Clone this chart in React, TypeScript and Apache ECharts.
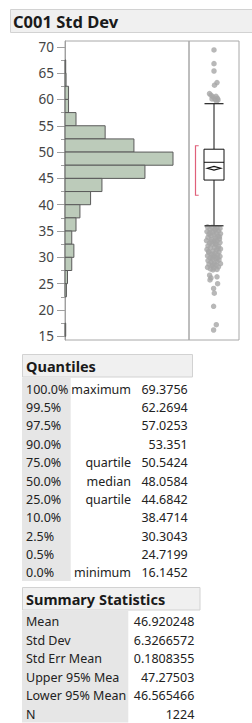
import React, { useEffect, useRef } from "react";
import * as echarts from "echarts";

// ---------- data ----------
const binStarts = [67.5, 65, 62.5, 60, 57.5, 55, 52.5, 50, 47.5, 45, 42.5, 40, 37.5, 35, 32.5, 30, 27.5, 25, 22.5, 20, 17.5, 15];
const binCounts = [0, 2, 3, 10, 10, 31, 113, 194, 304, 225, 104, 72, 42, 31, 19, 25, 19, 7, 4, 0, 0, 2];
const binWidth = 2.5;

const yMajorTicks = [15, 20, 25, 30, 35, 40, 45, 50, 55, 60, 65, 70];
const yMinorTicks = [17.5, 22.5, 27.5, 32.5, 37.5, 42.5, 47.5, 52.5, 57.5, 62.5, 67.5];

const boxStats = { whiskerLow: 36.0, q1: 44.6842, median: 48.0584, q3: 50.5424, whiskerHigh: 59.2 };
const meanStats = { mean: 46.920248, lower95: 46.565466, upper95: 47.27503 };
const shortestHalf = [41.8, 51.2];

// outliers: [horizontal jitter, value]
const upperOutliers = [
  [0, 69.4], [0, 66.8], [0, 65.4], [3, 63.2], [0.5, 62.7], [-4.5, 61.1], [-3, 60.8], [-1, 60.5],
  [2, 60.6], [3.5, 60.2], [4, 59.9], [1, 60.0], [-2, 60.1], [2.5, 59.7],
];
const lowerOutliers = [
  [-6.5, 35.8], [-2, 35.7], [3, 35.6], [6, 35.5], [-4, 35.3], [1, 35.2], [4.5, 35.0], [-7, 34.9],
  [-1, 34.8], [2.5, 34.6], [6.5, 34.5], [-5, 34.4], [0, 34.3], [-3, 34.1], [4, 34.0], [-6, 33.8],
  [1.5, 33.7], [5.5, 33.5], [-2.5, 33.4], [-7.5, 33.2], [3, 33.1], [0, 32.9], [6, 32.8], [-4.5, 32.7],
  [-1.5, 32.5], [2, 32.4], [-6, 32.2], [4.5, 32.1], [0.5, 31.9], [-3.5, 31.8], [6.5, 31.6], [-7, 31.5],
  [2.5, 31.4], [-1, 31.2], [5, 31.0], [-5, 30.9], [1, 30.8], [-2.5, 30.6], [3.5, 30.5], [-6.5, 30.3],
  [6, 30.2], [0, 30.1], [-4, 29.9], [2, 29.8], [-1.5, 29.6], [5, 29.5], [-6, 29.4], [3, 29.2],
  [-3, 29.1], [0.5, 28.9], [6.5, 28.8], [-5, 28.7], [2, 28.5], [-2, 28.4], [4.5, 28.2], [-6.5, 28.1],
  [0, 28.0], [-3.5, 27.8], [3, 27.7], [-1, 27.6], [1, 35.4], [-3, 33.0], [3.5, 29.9], [-0.5, 30.4],
  [1.5, 32.7], [-5.5, 31.1], [5.5, 33.9], [-1, 28.6], [4, 31.7], [-2, 30.0], [1, 33.3], [-4, 34.7],
  [-4.4, 26.6], [-3, 26.1], [-4, 25.7], [3, 26.3], [3.6, 25.0], [-0.4, 24.1], [0.3, 23.2],
  [-0.4, 20.7], [2.3, 17.2], [-0.4, 16.2],
];

const quantilePct = ["100.0%", "99.5%", "97.5%", "90.0%", "75.0%", "50.0%", "25.0%", "10.0%", "2.5%", "0.5%", "0.0%"];
const quantileNames = ["maximum", "", "", "", "quartile", "median", "quartile", "", "", "", "minimum"];
const quantileVals = ["69.3756", "62.2694", "57.0253", "53.351", "50.5424", "48.0584", "44.6842", "38.4714", "30.3043", "24.7199", "16.1452"];

const statNames = ["Mean", "Std Dev", "Std Err Mean", "Upper 95% Mea", "Lower 95% Mean", "N"];
const statVals = ["46.920248", "6.3266572", "0.1808355", "47.27503", "46.565466", "1224"];

const title = "C001 Std Dev";

// ---------- chart ----------
const FONT = "'Noto Sans', 'Open Sans', sans-serif";

export default function App() {
  const ref = useRef<HTMLDivElement>(null);

  useEffect(() => {
    if (!ref.current) return;
    const chart = echarts.init(ref.current, undefined, { renderer: "svg" });

    const yMin = 14.3;
    const yMax = 71.1;
    const histData = binStarts.map((s, i) => [s, s + binWidth, binCounts[i]]);

    const graphics: any[] = [];
    // title bar
    graphics.push({ type: "rect", shape: { x: 10.5, y: 9.5, width: 245, height: 23 }, style: { fill: "#f0f0f0", stroke: "#d2d2d2", lineWidth: 1 } });
    graphics.push({ type: "text", x: 13, y: 21.5, style: { text: title, font: `bold 16.5px ${FONT}`, fill: "#1a1a1a", verticalAlign: "middle", align: "left" } });

    // quantiles table
    const qTop = 354.5;
    graphics.push({ type: "rect", shape: { x: 22.5, y: qTop, width: 170, height: 22.5 }, style: { fill: "#f0f0f0", stroke: "#d2d2d2", lineWidth: 1 } });
    graphics.push({ type: "text", x: 26, y: 366, style: { text: "Quantiles", font: `bold 14.5px ${FONT}`, fill: "#1a1a1a", verticalAlign: "middle" } });
    graphics.push({ type: "rect", shape: { x: 22, y: 377.5, width: 48.7, height: 203.5 }, style: { fill: "#e6e6e6" } });
    quantilePct.forEach((p, i) => {
      const y = 389.3 + i * 18.34;
      graphics.push({ type: "text", x: 26, y, style: { text: p, font: `12.5px ${FONT}`, fill: "#222", verticalAlign: "middle", align: "left" } });
      if (quantileNames[i]) graphics.push({ type: "text", x: 131, y, style: { text: quantileNames[i], font: `12.5px ${FONT}`, fill: "#222", verticalAlign: "middle", align: "right" } });
      graphics.push({ type: "text", x: 187.7, y, style: { text: quantileVals[i], font: `12.5px ${FONT}`, fill: "#222", verticalAlign: "middle", align: "right" } });
    });

    // summary statistics
    const sTop = 587.5;
    graphics.push({ type: "rect", shape: { x: 22.5, y: sTop, width: 177.5, height: 22.5 }, style: { fill: "#f0f0f0", stroke: "#d2d2d2", lineWidth: 1 } });
    graphics.push({ type: "text", x: 26, y: 599, style: { text: "Summary Statistics", font: `bold 14.5px ${FONT}`, fill: "#1a1a1a", verticalAlign: "middle" } });
    graphics.push({ type: "rect", shape: { x: 22, y: 610.5, width: 106.3, height: 112 }, style: { fill: "#e6e6e6" } });
    statNames.forEach((n, i) => {
      const y = 621.7 + i * 18.46;
      graphics.push({ type: "text", x: 26, y, style: { text: n, font: `12.5px ${FONT}`, fill: "#222", verticalAlign: "middle", align: "left" } });
      graphics.push({ type: "text", x: 194.3, y, style: { text: statVals[i], font: `12.5px ${FONT}`, fill: "#222", verticalAlign: "middle", align: "right" } });
    });

    const option: any = {
      animation: false,
      grid: [
        { left: 65, top: 41, width: 124, height: 299, show: true, borderColor: "#a8a8a8", borderWidth: 1, backgroundColor: "transparent" },
        { left: 189, top: 41, width: 50, height: 299, show: true, borderColor: "#a8a8a8", borderWidth: 1, backgroundColor: "transparent" },
      ],
      xAxis: [
        { type: "value", gridIndex: 0, min: 0, max: 349, show: false },
        { type: "value", gridIndex: 1, min: -25, max: 25, show: false },
      ],
      yAxis: [
        {
          type: "value", gridIndex: 0, min: yMin, max: yMax, position: "left", offset: 0,
          axisLine: { show: true, lineStyle: { color: "#a0a0a0" } },
          axisTick: { show: true, length: 8, customValues: yMajorTicks, lineStyle: { color: "#a0a0a0" } },
          axisLabel: { show: true, customValues: yMajorTicks, margin: 11, fontSize: 13.5, color: "#444", fontFamily: FONT },
          splitLine: { show: false },
        },
        {
          type: "value", gridIndex: 0, min: yMin, max: yMax, position: "left", offset: 0,
          axisLine: { show: false },
          axisTick: { show: true, length: 4, customValues: yMinorTicks, lineStyle: { color: "#a0a0a0" } },
          axisLabel: { show: false },
          splitLine: { show: false },
        },
        { type: "value", gridIndex: 1, min: yMin, max: yMax, show: false, splitLine: { show: false } },
      ],
      graphic: graphics,
      series: [
        {
          type: "custom",
          xAxisIndex: 0,
          yAxisIndex: 0,
          data: histData,
          encode: { x: 2, y: [0, 1] },
          renderItem: (params: any, api: any) => {
            const lo = api.value(0);
            const hi = api.value(1);
            const c = api.value(2);
            if (!c) return null;
            const p0 = api.coord([0, hi]);
            const p1 = api.coord([c, lo]);
            return {
              type: "rect",
              shape: { x: p0[0], y: p0[1], width: p1[0] - p0[0], height: p1[1] - p0[1] },
              style: { fill: "#bccbba", stroke: "#5a5a5a", lineWidth: 1 },
            };
          },
        },
        {
          type: "scatter",
          xAxisIndex: 1,
          yAxisIndex: 2,
          data: [...upperOutliers, ...lowerOutliers],
          symbolSize: 5.5,
          itemStyle: { color: "#a6a6a6" },
          z: 2,
        },
        {
          type: "custom",
          xAxisIndex: 1,
          yAxisIndex: 2,
          z: 3,
          data: [[0]],
          renderItem: (params: any, api: any) => {
            const c = (x: number, y: number) => api.coord([x, y]);
            const black = { stroke: "#111", lineWidth: 1, fill: "none" };
            const wl = c(0, boxStats.whiskerLow);
            const wh = c(0, boxStats.whiskerHigh);
            const q1 = c(-10, boxStats.q1);
            const q3 = c(10, boxStats.q3);
            const md0 = c(-10, boxStats.median);
            const md1 = c(10, boxStats.median);
            const capL0 = c(-9.5, boxStats.whiskerLow);
            const capL1 = c(9.5, boxStats.whiskerLow);
            const capH0 = c(-9.5, boxStats.whiskerHigh);
            const capH1 = c(9.5, boxStats.whiskerHigh);
            const dL = c(-6.7, meanStats.mean);
            const dR = c(6.7, meanStats.mean);
            const dT = c(0, meanStats.upper95);
            const dB = c(0, meanStats.lower95);
            const sb0 = c(-18.5, shortestHalf[0]);
            const sb1 = c(-18.5, shortestHalf[1]);
            const sbt = c(-15.3, shortestHalf[0]);
            return {
              type: "group",
              children: [
                { type: "line", shape: { x1: wh[0], y1: wh[1], x2: wh[0], y2: q3[1] }, style: black },
                { type: "line", shape: { x1: wl[0], y1: wl[1], x2: wl[0], y2: q1[1] }, style: black },
                { type: "line", shape: { x1: capL0[0], y1: capL0[1], x2: capL1[0], y2: capL1[1] }, style: { stroke: "#333", lineWidth: 1.3 } },
                { type: "line", shape: { x1: capH0[0], y1: capH0[1], x2: capH1[0], y2: capH1[1] }, style: { stroke: "#333", lineWidth: 1.3 } },
                { type: "rect", shape: { x: q1[0], y: q3[1], width: q3[0] - q1[0], height: q1[1] - q3[1] }, style: { stroke: "#111", lineWidth: 1, fill: "#fff" } },
                { type: "line", shape: { x1: md0[0], y1: md0[1], x2: md1[0], y2: md1[1] }, style: black },
                { type: "polygon", shape: { points: [dL, dT, dR, dB] }, style: { stroke: "#111", lineWidth: 1.2, fill: "#fff" } },
                { type: "polyline", shape: { points: [[sbt[0], sb1[1]], [sb1[0], sb1[1]], [sb0[0], sb0[1]], [sbt[0], sbt[1]]] }, style: { stroke: "#e0607a", lineWidth: 1.2, fill: "none" } },
              ],
            };
          },
        },
      ],
    };

    chart.setOption(option);
    return () => chart.dispose();
  }, []);

  return <div ref={ref} style={{ position: "absolute", left: 0, top: 0, width: 252, height: 723 }} />;
}
